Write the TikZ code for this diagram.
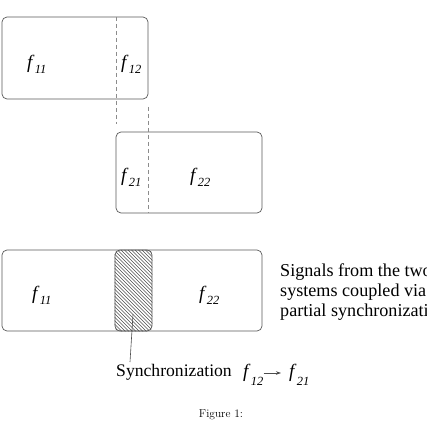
\documentclass[tikz,border=0pt]{standalone}
\usepackage{fontspec}
\newfontfamily\timesfont{Liberation Serif}
\usetikzlibrary{arrows.meta,calc}
\newcommand{\fsig}[2][5bp]{\textit{f}\kern0.3bp\raisebox{-#1}{\fontsize{12.5}{12.5}\selectfont\itshape #2}}

\begin{document}
\begin{tikzpicture}[x=1bp,y=-1bp,
  sigbox/.style={draw=black!65,line width=0.7bp,rounded corners=5bp,inner sep=0pt},
  cut/.style={draw=black!45,line width=0.6bp,dash pattern=on 4bp off 3bp},
  hatchline/.style={draw=black!70,line width=0.55bp},
  lbl/.style={font=\timesfont\fontsize{19}{19}\selectfont,inner sep=0pt,anchor=base west},
  txt/.style={font=\timesfont\fontsize{17.7}{20}\selectfont,inner sep=0pt}]
  \useasboundingbox (0,0) rectangle (426,440);
  % the two systems
  \node[sigbox,minimum width=146bp,minimum height=82bp] (box1) at (75,58) {};
  \node[sigbox,minimum width=146bp,minimum height=81bp] (box2) at (189,172.5) {};
  \draw[cut] (116,17) -- (116,124);
  \draw[cut] (148,107) -- (148,213);
  \node[lbl] (f11a) at (27,69) {\fsig{11}};
  \node[lbl] (f12a) at (121,69) {\fsig{12}};
  \node[lbl] (f21a) at (121,182) {\fsig{21}};
  \node[lbl] (f22a) at (190,182) {\fsig{22}};
  % coupled signal
  \node[sigbox,minimum width=260bp,minimum height=81bp] (box3) at (132,290.5) {};
  \node[sigbox,minimum width=37bp,minimum height=81bp] (hatch) at (133.5,290.5) {};
  \begin{scope}
    \clip[rounded corners=5bp] (hatch.north west) rectangle (hatch.south east);
    \foreach \k in {30,33.5,...,156}
      \draw[hatchline] (\k,250) -- ++(85,85);
  \end{scope}
  \node[lbl] (f11b) at (32,299) {\fsig{11}};
  \node[lbl] (f22b) at (199,299) {\fsig{22}};
  \node[txt,font=\timesfont\fontsize{18.2}{20}\selectfont,anchor=north west,align=left] (note) at (280,264) {Signals from the two\\systems coupled via\\partial synchronization};
  % synchronization label
  \node[txt,anchor=base west] (sync) at (116,376) {Synchronization};
  \node[lbl] (f12s) at (243,377) {\fsig[8bp]{12}};
  \node[lbl] (f21s) at (289,377) {\fsig[8bp]{21}};
  \coordinate (tail) at (130,362);
  \draw[black!70,line width=0.6bp] ($(hatch.south)+(-0.5,-17)$) -- (tail);
  \draw[black!70,line width=0.6bp,-{Stealth[length=5bp,width=3.5bp]}] ($(f12s.base east)+(0,-4)$) -- ($(f21s.base west)+(-8,-4)$);
  \node[font=\fontsize{11.5}{14}\selectfont,anchor=base] (cap) at (221,417) {Figure 1:};
\end{tikzpicture}
\end{document}
